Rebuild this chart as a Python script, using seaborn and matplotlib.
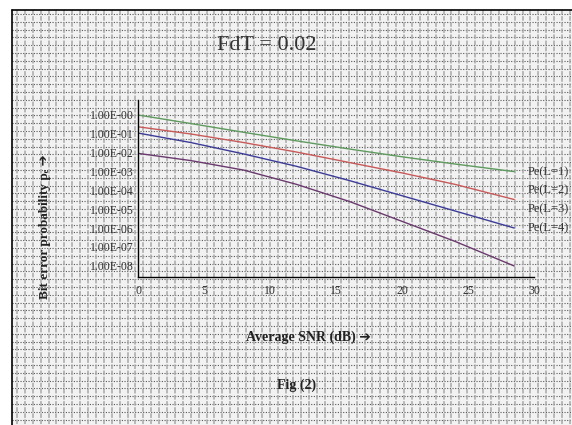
import numpy as np
import pandas as pd
import matplotlib
matplotlib.use("Agg")
import matplotlib.pyplot as plt
import seaborn as sns

sns.set_style("white")
plt.rcParams['font.family'] = ['Liberation Serif', 'DejaVu Sans']

# data (values are -log10 of bit error probability)
snr = [0, 4, 8, 12, 16, 20, 24, 28.5]
neglog_l1 = [0.05, 0.50, 0.96, 1.41, 1.84, 2.25, 2.63, 3.03]
neglog_l2 = [0.67, 1.05, 1.50, 2.00, 2.55, 3.10, 3.70, 4.50]
neglog_l3 = [1.00, 1.50, 2.10, 2.75, 3.50, 4.30, 5.10, 6.00]
neglog_l4 = [2.07, 2.45, 2.95, 3.70, 4.60, 5.65, 6.70, 8.00]
series_names = ["Pe(L=1)", "Pe(L=2)", "Pe(L=3)", "Pe(L=4)"]
series_colors = ["#5f9a5f", "#c85a5a", "#3c3c98", "#6a3a6e"]
ytick_exp = [0, 1, 2, 3, 4, 5, 6, 7, 8]
xtick_vals = [0, 5, 10, 15, 20, 25, 30]

rows = []
for name, vals in zip(series_names, [neglog_l1, neglog_l2, neglog_l3, neglog_l4]):
    for s, v in zip(snr, vals):
        rows.append({"snr": s, "pe": 10 ** (-v), "series": name})
df = pd.DataFrame(rows)

W, H = 572, 425
fig = plt.figure(figsize=(W / 100, H / 100), dpi=100)

# graph-paper background
bg = fig.add_axes([0, 0, 1, 1], zorder=0)
bg.set_xlim(0, W)
bg.set_ylim(H, 0)
bg.axis("off")
bg.fill_between([12, W], 10, H, color="#f2f2f2", lw=0)
for y in np.arange(14, H, 7.8):
    bg.plot([12, W], [y, y], color="#555555", lw=0.8, ls=(0, (1, 1.4)))
for x in np.arange(17, W, 7.9):
    bg.plot([x, x], [10, H], color="#a8a8a8", lw=1.1, ls=(0, (3, 1)))
bg.plot([12, W], [10, 10], color="black", lw=1.2)
bg.plot([12, 12], [10, H], color="black", lw=1.2)

# chart area
ax = fig.add_axes([138 / W, 1 - 277 / H, 396 / W, 177 / H], zorder=2)
ax.patch.set_visible(False)
sns.lineplot(data=df, x="snr", y="pe", hue="series", palette=series_colors,
             linewidth=1.0, ax=ax, legend=False)
ax.set_yscale("log")
ax.set_ylim(10 ** -8.58, 10 ** 0.74)
ax.set_xlim(0, 30)
ax.set_yticks([10.0 ** (-e) for e in ytick_exp])
ax.set_yticklabels(["1.00E-%02d" % e for e in ytick_exp])
ax.yaxis.set_minor_locator(matplotlib.ticker.NullLocator())
ax.set_xticks(xtick_vals)
ax.set_xticklabels([str(v) for v in xtick_vals])
ax.tick_params(axis="both", length=0, labelsize=8.5, labelcolor="#333333")
ax.tick_params(axis="y", pad=3)
ax.tick_params(axis="x", pad=6)
ax.set_xlabel("")
ax.set_ylabel("")
for side in ["top", "right"]:
    ax.spines[side].set_visible(False)
for side in ["left", "bottom"]:
    ax.spines[side].set_color("black")
    ax.spines[side].set_linewidth(1.0)

# series labels on the right
for name, ypix in zip(series_names, [172, 190, 209, 228]):
    fig.text(528 / W, 1 - ypix / H, name, fontsize=9, color="#333333", va="center")

fig.text(267 / W, 1 - 45 / H, "FdT = 0.02", fontsize=16, color="#333333",
         ha="center", va="center")
fig.text(308 / W, 1 - 337 / H, "Average SNR (dB) \u2794", fontsize=10,
         fontweight="bold", color="#222222", ha="center", va="center")
fig.text(297 / W, 1 - 385 / H, "Fig (2)", fontsize=10, fontweight="bold",
         color="#222222", ha="center", va="center")
fig.text(45 / W, 1 - 227 / H, "Bit error probability p\u2091 \u2794",
         fontsize=9.5, fontweight="bold", color="#222222", rotation=90,
         ha="center", va="center")

fig.savefig("out.png", dpi=100)
